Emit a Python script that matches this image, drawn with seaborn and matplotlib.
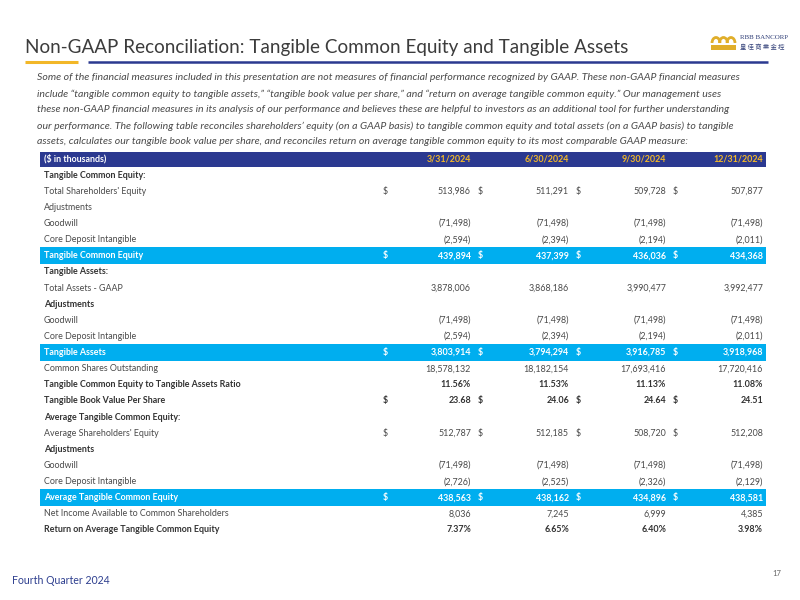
import matplotlib
matplotlib.use('Agg')
import matplotlib.pyplot as plt
import matplotlib.patches as mpatches
import seaborn as sns

sns.set_theme(style='white')
plt.rcParams['font.family'] = ['Lato', 'Noto Sans CJK TC', 'DejaVu Sans']

# colours
NAVY = '#2B3990'
CYAN = '#00AEEF'
GOLD = '#F2B728'
DARK = '#3C3C3C'
GREY = '#4A4A4A'

# =============================================================================
# DATA
# =============================================================================

dates = ['3/31/2024', '6/30/2024', '9/30/2024', '12/31/2024']

total_shareholders_equity = [513986, 511291, 509728, 507877]
goodwill = [-71498, -71498, -71498, -71498]
core_deposit_intangible = [-2594, -2394, -2194, -2011]
tangible_common_equity = [439894, 437399, 436036, 434368]

total_assets = [3878006, 3868186, 3990477, 3992477]
tangible_assets = [3803914, 3794294, 3916785, 3918968]

shares_outstanding = [18578132, 18182154, 17693416, 17720416]
tce_to_ta_ratio = [11.56, 11.53, 11.13, 11.08]
tangible_book_value_per_share = [23.68, 24.06, 24.64, 24.51]

avg_shareholders_equity = [512787, 512185, 508720, 512208]
avg_goodwill = [-71498, -71498, -71498, -71498]
avg_core_deposit_intangible = [-2726, -2525, -2326, -2129]
avg_tangible_common_equity = [438563, 438162, 434896, 438581]
net_income_common = [8036, 7245, 6999, 4385]
return_on_avg_tce = [7.37, 6.65, 6.40, 3.98]

intro_lines = [
    "Some of the financial measures included in this presentation are not measures of financial performance recognized by GAAP. These non-GAAP financial measures",
    "include \u201ctangible common equity to tangible assets,\u201d \u201ctangible book value per share,\u201d and \u201creturn on average tangible common equity.\u201d Our management uses",
    "these non-GAAP financial measures in its analysis of our performance and believes these are helpful to investors as an additional tool for further understanding",
    "our performance. The following table reconciles shareholders\u2019 equity (on a GAAP basis) to tangible common equity and total assets (on a GAAP basis) to tangible",
    "assets, calculates our tangible book value per share, and reconciles return on average tangible common equity to its most comparable GAAP measure:",
]


def fmt_int(v):
    return f'({abs(v):,})' if v < 0 else f'{v:,}'


def fmt_pct(v):
    return f'{v:.2f}%'


def fmt_dec(v):
    return f'{v:.2f}'


# (label, values, style, formatter, dollar signs)
rows = [
    ('Tangible Common Equity:', None, 'section', None, False),
    ("Total Shareholders' Equity", total_shareholders_equity, 'plain', fmt_int, True),
    ('Adjustments', None, 'plain', None, False),
    ('Goodwill', goodwill, 'plain', fmt_int, False),
    ('Core Deposit Intangible', core_deposit_intangible, 'plain', fmt_int, False),
    ('Tangible Common Equity', tangible_common_equity, 'band', fmt_int, True),
    ('Tangible Assets:', None, 'section', None, False),
    ('Total Assets - GAAP', total_assets, 'plain', fmt_int, False),
    ('Adjustments', None, 'section', None, False),
    ('Goodwill', goodwill, 'plain', fmt_int, False),
    ('Core Deposit Intangible', core_deposit_intangible, 'plain', fmt_int, False),
    ('Tangible Assets', tangible_assets, 'band', fmt_int, True),
    ('Common Shares Outstanding', shares_outstanding, 'plain', fmt_int, False),
    ('Tangible Common Equity to Tangible Assets Ratio', tce_to_ta_ratio, 'bold', fmt_pct, False),
    ('Tangible Book Value Per Share', tangible_book_value_per_share, 'bold', fmt_dec, True),
    ('Average Tangible Common Equity:', None, 'section', None, False),
    ("Average Shareholders' Equity", avg_shareholders_equity, 'plain', fmt_int, True),
    ('Adjustments', None, 'section', None, False),
    ('Goodwill', avg_goodwill, 'plain', fmt_int, False),
    ('Core Deposit Intangible', avg_core_deposit_intangible, 'plain', fmt_int, False),
    ('Average Tangible Common Equity', avg_tangible_common_equity, 'band', fmt_int, True),
    ('Net Income Available to Common Shareholders', net_income_common, 'plain', fmt_int, False),
    ('Return on Average Tangible Common Equity', return_on_avg_tce, 'bold', fmt_pct, False),
]

# layout (pixel coordinates on an 800x600 canvas)
TABLE_LEFT, TABLE_RIGHT = 40, 766
LABEL_X = 44
VALUE_RIGHT = [471, 569, 666, 763]
DOLLAR_X = [383, 478, 576, 673]
HEADER_Y = 159
ROW_STEP = 16.13
FS = 6.4

# =============================================================================
# DRAW
# =============================================================================

fig = plt.figure(figsize=(8, 6), dpi=100)
ax = fig.add_axes([0, 0, 1, 1])
ax.set_xlim(0, 800)
ax.set_ylim(600, 0)
ax.axis('off')

# title and rules
ax.text(25, 47, 'Non-GAAP Reconciliation: Tangible Common Equity and Tangible Assets',
        fontsize=13.6, color=DARK, va='center', ha='left')
ax.plot([25, 78], [62, 62], color=GOLD, lw=2.2, solid_capstyle='butt')
ax.plot([88, 768], [62, 62], color=NAVY, lw=1.8, solid_capstyle='butt')

# logo: small gold crown plus name
crown = '#E0AE2A'
for cx in [716, 723.5, 731]:
    ax.add_patch(mpatches.Arc((cx, 43), 8, 11, theta1=180, theta2=360, color=crown, lw=2.0))
ax.add_patch(mpatches.Rectangle((711, 45), 25, 4.5, color=crown, lw=0))
ax.text(740, 37.5, 'RBB BANCORP', fontsize=5.0, color='#34427A', va='center',
        family='Liberation Serif')
ax.text(740, 47, '皇 佳 商 業 金 控', fontsize=4.5, color='#34427A', va='center',
        family=['Noto Sans CJK TC', 'DejaVu Sans'])

# intro paragraph
for i, line in enumerate(intro_lines):
    ax.text(37, 78 + i * 16.0, line, fontsize=7.55, style='italic', color=GREY,
            va='center', ha='left')

# table header
ax.add_patch(mpatches.Rectangle((TABLE_LEFT, HEADER_Y - 7.5), TABLE_RIGHT - TABLE_LEFT, 15,
                                color=NAVY, lw=0))
ax.text(LABEL_X, HEADER_Y, '($ in thousands)', fontsize=FS, color='white', weight='bold',
        va='center', parse_math=False)
for x, d in zip(VALUE_RIGHT, dates):
    ax.text(x, HEADER_Y, d, fontsize=FS, color=GOLD, weight='bold', va='center', ha='right')

# table rows
for i, (label, values, style, fmt, dollar) in enumerate(rows):
    y = HEADER_Y + (i + 1) * ROW_STEP
    color = GREY
    weight = 'normal'
    if style == 'band':
        ax.add_patch(mpatches.Rectangle((TABLE_LEFT, y - 8.3), TABLE_RIGHT - TABLE_LEFT, 16.6,
                                        color=CYAN, lw=0))
        color = 'white'
        weight = 'bold'
    elif style in ('bold', 'section'):
        color = '#333333'
        weight = 'bold'
    ax.text(LABEL_X, y, label, fontsize=FS, color=color, weight=weight, va='center')
    if values is None:
        continue
    for x, v in zip(VALUE_RIGHT, values):
        ax.text(x, y, fmt(v), fontsize=FS, color=color, weight=weight, va='center', ha='right')
    if dollar:
        for x in DOLLAR_X:
            ax.text(x, y, '$', fontsize=FS, color=color, weight=weight, va='center',
                    parse_math=False)

# footer
ax.text(12, 580, 'Fourth Quarter 2024', fontsize=7.6, color='#2E3F8F', va='center')
ax.text(781, 574, '17', fontsize=5.5, color='#666666', va='center', ha='right')

fig.savefig('out.png', dpi=100)
